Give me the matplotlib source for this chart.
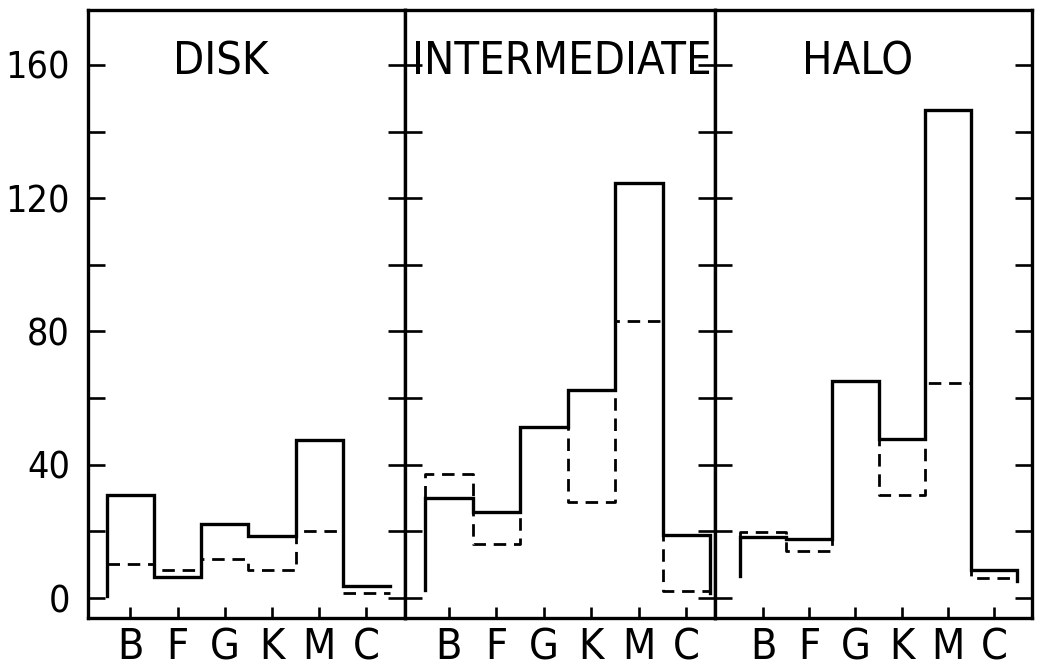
import matplotlib
matplotlib.use("Agg")
import matplotlib.pyplot as plt
from matplotlib import font_manager

# ---------------- data ----------------
categories = ["B", "F", "G", "K", "M", "C"]
panel_titles = ["DISK", "INTERMEDIATE", "HALO"]

disk_solid = [31, 6.4, 22.3, 18.5, 47.5, 3.5]
disk_dashed = [10.2, 8.4, 11.6, 8.4, 20, 1.5]
inter_solid = [30, 25.7, 51.4, 62.5, 124.5, 18.8]
inter_dashed = [37.2, 16.3, 51.4, 28.9, 83, 2]
halo_solid = [18.2, 17.6, 65, 47.8, 146.4, 8.5]
halo_dashed = [19.9, 14, 65, 31, 64.6, 6]

# levels of the first / last vertical segments
solid_start = [0.5, 2.5, 6.5]
solid_end = [3.5, 1.5, 5.0]
dashed_start = [10.2, 30, 18.2]

ytick_values = [0, 20, 40, 60, 80, 100, 120, 140, 160]
ytick_labels = ["0", "", "40", "", "80", "", "120", "", "160"]

# ---------------- fonts ----------------
cond_file = None
for f in font_manager.fontManager.ttflist:
    fn = f.fname.lower()
    if ("condensed" in fn or "narrow" in fn) and "bold" not in fn \
            and "italic" not in fn and "oblique" not in fn \
            and "mono" not in fn and "serif" not in f.name.lower() \
            and "light" not in fn and "semi" not in fn and "extra" not in fn:
        cond_file = f.fname
        break

if cond_file:
    fp = font_manager.FontProperties(fname=cond_file)
    s_tick, s_title, s_cat = 27, 32.5, 31
else:
    fp = font_manager.FontProperties(family="DejaVu Sans")
    s_tick, s_title, s_cat = 23, 28, 30

fig = plt.figure(figsize=(10.4, 6.71), dpi=100)
gs = fig.add_gridspec(1, 3, width_ratios=[317, 310, 317], wspace=0,
                      left=88 / 1040, right=1032 / 1040,
                      bottom=53 / 671, top=661 / 671)

solids = [disk_solid, inter_solid, halo_solid]
dasheds = [disk_dashed, inter_dashed, halo_dashed]
xlims = [(-0.9, 5.82), (-0.92, 5.6), (-1.04, 5.82)]
title_x = [0.42, 0.505, 0.45]


def step_xy(vals, start, end):
    xs = [-0.5]
    ys = [start]
    for i, v in enumerate(vals):
        xs += [i - 0.5, i + 0.5]
        ys += [v, v]
    xs.append(len(vals) - 0.5)
    ys.append(end)
    return xs, ys


for k in range(3):
    ax = fig.add_subplot(gs[0, k])
    xd, yd = step_xy(dasheds[k], dashed_start[k], dasheds[k][-1])
    ax.plot(xd, yd, color="black", lw=2.0, linestyle=(0, (4.5, 2.8)),
            dash_capstyle="butt")
    xs, ys = step_xy(solids[k], solid_start[k], solid_end[k])
    ax.plot(xs, ys, color="black", lw=2.4, solid_joinstyle="miter")

    ax.set_xlim(*xlims[k])
    ax.set_ylim(-6, 176.5)
    ax.set_xticks(range(len(categories)))
    ax.set_xticklabels(categories, fontproperties=fp, fontsize=s_cat)
    ax.set_yticks(ytick_values)
    if k == 0:
        ax.set_yticklabels(ytick_labels, fontproperties=fp, fontsize=s_tick)
    else:
        ax.set_yticklabels([])
    ax.tick_params(axis="y", direction="in", length=12, width=1.9,
                   left=True, right=True, pad=13)
    ax.tick_params(axis="x", direction="in", length=8, width=1.9, pad=6)
    for sp in ax.spines.values():
        sp.set_linewidth(2.4)
    ax.text(title_x[k], 0.915, panel_titles[k], transform=ax.transAxes,
            ha="center", va="center", fontproperties=fp, fontsize=s_title)

fig.savefig("out.png", dpi=100)
